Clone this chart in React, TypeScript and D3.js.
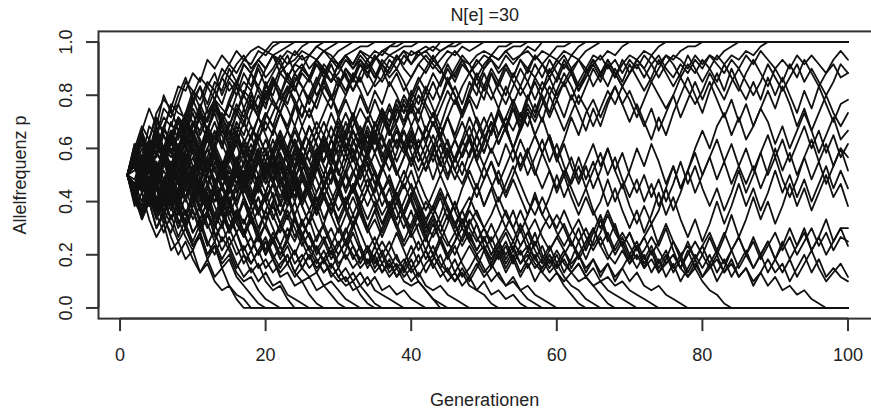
import React from "react";
import * as d3 from "d3";

// allele counts out of 2 * N[e] = 60 copies, one entry per generation (starting at generation 1)
const alleleCopies = 60;
const title = "N[e] =30";

// runs that end fixed at p = 1 (array stops at the generation of fixation)
const fixedAtOne: number[][] = [
  [30,36,41,38,44,47,45,50,49,53,51,56,54,57,55,58,56,58,59,58,60],
  [30,33,39,35,42,40,46,44,43,48,52,50,47,52,55,53,56,55,58,57,59,60],
  [30,27,33,38,36,41,45,40,44,49,47,51,49,54,52,55,57,54,56,58,57,58,59,60],
  [30,35,31,37,35,40,38,43,41,46,50,44,47,52,49,51,55,53,56,54,57,56,58,57,59,60],
  [30,24,29,33,31,36,34,39,44,42,40,45,49,46,51,48,53,50,55,52,54,57,55,56,58,57,59,60],
  [30,37,34,41,39,45,43,48,52,47,50,46,51,49,54,51,48,53,56,54,57,53,55,58,56,57,59,58,59,60],
  [30,32,26,31,35,33,30,36,41,38,44,42,47,45,43,48,51,49,54,50,53,56,52,55,54,57,56,58,56,58,59,60],
  [30,34,40,45,41,48,44,46,51,49,45,50,53,48,52,50,55,53,50,54,57,55,52,55,57,54,56,58,57,55,57,58,59,59,60],
  [30,28,33,29,35,32,38,36,33,39,43,40,46,42,38,44,41,47,45,50,48,53,51,49,54,52,55,53,56,55,57,55,58,57,56,58,59,60],
  [30,37,33,38,43,39,35,40,36,41,46,42,47,43,39,44,48,45,50,47,51,48,52,49,53,51,55,52,56,54,57,55,58,56,58,57,59,59,60],
  [30,31,36,33,28,34,37,35,41,39,44,40,37,42,46,44,49,47,43,48,52,49,46,51,54,52,56,53,51,55,57,54,56,53,56,58,57,58,59,59,60],
  [30,26,22,27,24,29,33,30,35,39,36,41,38,43,40,37,42,46,43,49,46,44,48,52,50,47,51,55,53,50,54,52,56,54,57,55,53,56,58,57,58,59,58,60],
  [30,25,30,26,31,36,32,28,33,38,34,30,35,31,27,32,37,33,38,42,39,44,41,46,43,48,45,50,47,52,49,53,51,55,52,56,54,57,55,58,57,58,59,58,59,60],
  [30,35,38,34,39,43,41,46,42,38,44,40,45,42,47,51,48,53,49,46,50,54,57,53,55,52,56,54,51,53,56,54,57,55,52,55,57,56,58,55,57,58,56,58,59,59,60],
  [30,29,34,31,27,32,36,32,38,35,30,34,39,37,42,39,45,41,38,43,47,44,40,45,49,52,48,51,47,50,54,51,55,53,50,52,56,54,57,55,58,56,54,56,58,57,59,58,59,60],
  [30,34,29,25,30,27,32,37,34,31,36,40,38,44,41,46,43,48,45,51,47,44,49,53,50,46,50,54,51,55,52,49,53,56,53,51,54,57,54,52,55,57,55,53,56,58,56,55,57,58,57,59,59,60],
  [30,34,30,26,31,27,23,27,32,28,24,28,33,29,34,30,26,31,35,31,36,40,36,41,37,33,38,42,38,43,47,43,48,44,49,46,51,48,44,48,52,49,53,50,54,51,55,53,56,54,57,56,58,59,59,60],
  [30,33,37,32,38,35,40,36,42,47,43,40,45,41,37,42,39,44,48,45,51,48,53,50,46,43,47,51,55,51,48,52,55,52,57,54,50,53,49,52,55,53,56,54,51,54,57,55,52,55,57,56,58,56,57,59,58,60],
  [30,25,28,23,27,31,28,34,30,36,33,39,35,32,37,41,38,35,40,44,41,46,50,47,43,48,52,48,45,50,53,49,52,48,51,55,52,54,51,47,51,54,57,54,51,53,56,53,55,57,56,54,57,55,57,58,56,58,57,59,59,60],
  [30,26,22,26,21,25,30,26,31,27,23,27,32,28,24,28,33,29,34,38,34,30,35,31,36,41,37,33,38,34,39,35,31,36,40,36,41,45,41,46,42,47,51,47,52,48,44,49,53,50,54,51,55,52,56,53,57,55,57,56,58,57,59,60],
  [30,36,31,35,29,33,38,33,37,32,27,31,36,30,34,39,35,29,33,28,32,37,33,28,24,29,34,30,35,31,26,30,35,40,35,39,34,30,34,38,33,37,42,38,43,39,44,48,45,50,47,51,48,53,50,54,52,55,53,56,54,57,56,58,59,60],
  [30,27,32,28,24,29,26,31,35,30,26,22,27,23,28,33,29,25,30,35,31,27,32,36,31,27,23,27,32,28,33,38,34,30,26,31,35,30,34,39,35,31,36,41,37,33,38,43,39,35,40,45,41,46,50,47,52,49,54,51,55,53,56,54,57,56,58,57,59,60],
  [30,34,39,35,41,36,42,38,43,39,35,40,36,31,36,32,27,32,28,33,38,34,29,34,30,26,31,36,32,37,42,38,34,39,35,40,45,41,37,33,38,34,29,34,38,33,37,41,36,40,44,39,43,47,43,48,44,49,52,48,51,54,50,53,56,53,55,52,55,57,56,58,57,59,60],
  [30,26,31,35,30,26,30,25,21,25,29,24,28,33,29,34,30,35,39,35,40,44,40,36,41,37,33,38,34,30,35,31,27,31,35,31,36,40,36,32,36,41,37,33,29,34,30,35,39,35,40,44,40,45,41,46,43,48,44,49,53,50,46,50,54,51,55,52,56,53,56,54,57,55,57,56,58,59,59,60],
  [30,33,28,32,37,33,29,34,38,35,31,36,40,36,41,45,42,38,43,40,44,48,45,41,46,43,47,52,48,44,48,52,49,45,41,45,40,36,40,35,31,35,39,35,30,34,38,34,39,43,39,44,40,36,41,45,42,46,50,47,51,47,51,54,50,53,56,53,50,53,55,52,55,57,54,52,55,53,56,54,57,56,58,59,60],
  [30,35,31,26,31,28,33,29,25,30,34,31,36,32,28,33,37,34,39,35,31,36,40,37,33,38,42,39,44,40,36,41,45,42,47,43,39,44,48,45,50,46,43,47,51,48,44,48,52,49,53,49,46,50,54,51,47,51,48,52,56,53,49,52,55,52,56,53,50,53,56,54,51,54,57,55,52,55,53,56,54,57,55,57,56,58,57,59,60],
];

// runs that end lost at p = 0
const fixedAtZero: number[][] = [
  [30,23,26,20,16,19,13,15,11,13,8,10,6,4,5,2,0],
  [30,27,21,24,18,21,16,12,15,11,8,11,7,9,5,3,2,0],
  [30,33,26,29,23,19,24,20,16,13,17,12,14,9,11,7,5,3,1,0],
  [30,25,28,31,24,20,17,22,18,14,16,11,14,10,12,8,6,7,4,2,1,0],
  [30,34,28,24,27,21,25,19,22,17,20,15,12,16,13,9,12,8,10,6,4,5,2,0],
  [30,26,31,26,22,25,20,23,18,14,17,12,15,11,14,10,7,9,6,8,5,6,3,2,1,0],
  [30,36,31,27,32,26,22,26,21,24,19,22,16,19,14,17,12,10,13,9,11,7,8,5,6,3,1,0],
  [30,24,21,26,22,27,23,18,22,17,20,24,19,15,18,14,10,13,9,11,8,10,12,8,6,7,4,5,3,1,0],
  [30,32,27,33,29,24,28,25,21,26,22,18,21,25,20,17,13,16,12,15,11,8,10,13,9,7,8,5,6,4,2,1,0],
  [30,25,21,25,20,24,28,23,19,23,27,22,18,22,17,21,17,13,16,12,15,11,14,10,12,9,11,8,10,7,5,6,3,1,0],
  [30,27,23,28,32,27,24,29,25,20,23,19,15,19,22,17,20,16,12,15,11,14,10,7,9,12,9,11,8,6,7,4,5,3,1,0],
  [30,35,30,34,28,25,30,26,31,27,22,26,21,18,23,19,16,20,17,13,17,14,10,13,9,12,8,11,7,9,6,8,5,7,4,3,2,1,0],
  [30,26,20,24,18,22,19,15,18,14,17,21,17,13,16,12,14,10,13,16,12,9,12,8,11,14,11,8,10,7,9,6,8,5,7,4,5,3,4,2,1,0],
  [30,35,30,35,31,27,32,28,24,29,33,28,24,28,23,27,31,27,22,26,21,17,21,16,20,16,13,16,12,15,11,14,10,13,9,12,8,10,7,9,6,4,2,0],
  [30,33,38,33,29,34,30,26,31,27,32,28,24,27,23,20,24,19,22,18,15,19,15,12,16,13,10,13,9,12,15,12,9,11,8,10,7,9,6,5,6,4,2,1,0],
  [30,28,24,29,25,21,26,23,27,22,18,22,26,21,17,20,24,20,16,19,15,18,22,18,14,17,13,11,14,10,12,9,11,14,11,8,10,7,9,6,8,5,4,5,3,2,1,0],
  [30,35,31,37,32,28,33,29,34,31,26,30,26,22,26,30,25,21,25,20,23,19,16,20,17,13,16,19,15,12,15,11,14,10,12,15,12,9,11,8,10,13,10,7,9,6,8,5,4,3,1,0],
  [30,25,29,24,28,33,29,25,30,26,22,27,23,19,24,20,25,21,17,22,18,14,18,15,19,16,12,15,11,14,18,14,11,14,10,13,9,12,8,11,7,10,12,9,6,8,5,7,4,6,3,4,2,3,1,0],
  [30,26,31,27,23,28,32,28,33,29,25,30,26,22,27,31,27,23,28,32,28,33,29,25,30,26,21,25,21,26,22,18,22,18,14,18,22,18,14,17,13,16,12,9,12,8,11,14,11,8,10,7,5,6,4,2,1,0],
  [30,34,29,33,38,34,30,35,31,27,32,36,31,27,31,26,30,25,21,25,28,24,20,24,19,22,18,15,18,14,17,21,17,13,16,12,15,11,9,12,15,11,14,10,8,11,7,9,12,9,6,8,5,7,4,5,3,2,1,0],
  [30,27,32,28,33,29,25,29,34,30,35,39,35,31,36,32,37,41,37,33,29,33,28,32,37,33,29,25,29,34,30,26,31,35,31,27,23,27,31,27,23,19,23,27,23,19,22,18,15,18,14,11,14,10,13,9,12,8,6,8,5,3,1,0],
  [30,34,38,34,39,35,31,35,40,36,32,36,31,27,32,28,33,37,33,29,33,29,25,29,34,30,26,30,35,31,27,31,27,23,27,32,28,24,28,24,20,24,21,17,21,17,14,17,13,16,12,15,11,14,10,12,9,11,8,10,7,5,4,2,1,0],
  [30,36,32,38,34,39,35,31,36,40,36,32,37,33,29,33,28,32,27,31,35,30,26,30,25,29,34,38,34,39,35,40,36,32,28,32,36,31,27,31,26,22,26,30,26,22,18,22,19,15,19,15,12,15,19,15,11,14,10,13,10,8,6,7,5,3,1,0],
  [30,26,30,25,21,25,29,24,28,32,28,23,27,31,27,32,28,24,28,24,20,24,28,24,29,25,21,25,21,17,21,25,21,17,20,16,20,24,20,16,19,15,19,15,12,15,18,15,12,14,11,14,17,13,10,13,10,8,11,8,6,8,10,7,5,6,4,3,2,1,0],
  [30,33,29,34,39,35,40,36,32,37,33,38,34,30,35,31,27,32,28,33,29,25,29,25,30,26,22,26,22,27,23,19,23,27,23,19,22,18,22,26,22,18,21,17,14,17,20,16,13,16,12,15,18,15,12,14,11,9,12,9,11,8,10,7,9,6,7,5,6,4,3,2,1,0],
  [30,25,29,24,28,23,27,32,28,24,28,33,29,25,21,25,30,26,22,26,31,27,23,27,23,19,23,28,24,20,24,28,24,20,24,19,23,19,15,19,23,19,16,19,15,12,16,20,16,13,16,12,15,11,14,17,13,10,13,16,13,10,12,9,11,8,10,7,9,6,8,5,4,5,3,2,1,0],
  [30,34,39,35,31,35,39,34,38,42,38,33,37,41,36,40,35,31,35,30,34,38,33,29,33,28,32,36,32,27,31,26,30,34,30,26,29,25,21,25,29,25,22,26,22,18,22,25,21,18,21,25,21,18,22,18,14,18,21,17,14,17,20,16,13,16,12,10,13,10,12,9,11,8,10,12,9,7,9,6,4,3,1,0],
  [30,26,31,27,22,26,30,26,21,25,29,25,20,24,28,24,28,32,28,24,28,23,27,31,26,22,26,30,26,22,25,21,25,29,25,21,24,20,24,28,24,20,23,19,23,19,15,19,22,18,15,18,22,18,14,17,20,16,13,16,19,15,12,15,18,14,11,14,17,14,11,13,16,13,10,12,9,12,15,12,9,11,8,10,7,9,6,8,5,7,4,5,3,4,2,1,0],
];

// runs still segregating at generation 100
const segregating: number[][] = [
  [30,35,32,38,35,41,37,43,40,45, 42,38,42,37,33,38,34,39,43,39, 35,31,36,32,37,41,37,33,38,35, 40,44,40,36,41,45,42,47,44,49,
   46,50,47,51,55,52,56,53,50,54, 56,53,55,52,56,54,57,55,52,55, 57,54,56,53,55,57,54,56,53,56, 54,57,55,52,55,57,56,54,57,55,
   57,55,53,56,54,57,55,58,56,54, 56,54,57,55,57,55,53,56,58,56],
  [30,26,29,34,30,35,31,36,33,38, 35,31,36,40,37,33,38,35,40,44, 41,37,33,38,34,30,35,39,35,40, 44,40,36,41,37,42,46,42,47,44,
   48,45,41,45,49,46,50,53,50,47, 53,50,54,51,48,51,55,52,56,53, 50,53,49,53,56,53,50,54,51,55, 52,49,52,56,53,50,53,57,54,51,
   54,51,55,52,49,53,56,53,50,54, 51,55,52,56,53,50,53,55,52,53],
  [30,25,28,23,27,22,26,21,25,29, 25,22,27,24,28,33,29,34,30,26, 31,35,31,36,33,38,34,39,35,41, 37,34,39,43,39,44,40,37,41,45,
   41,38,42,38,34,38,42,38,43,39, 35,39,43,40,44,41,46,42,48,44, 40,44,48,45,41,45,49,46,50,47, 43,47,51,48,45,48,52,49,46,49,
   53,50,47,51,54,51,48,51,55,52, 49,52,55,51,54,51,48,51,55,53],
  [30,36,31,35,40,36,32,37,33,38, 34,30,34,29,33,37,32,28,33,36, 32,28,32,27,31,36,32,37,33,39, 35,40,37,43,39,44,41,46,42,47,
   44,49,45,41,46,50,46,51,48,53, 49,45,50,46,42,47,51,47,43,47, 43,48,44,40,45,41,46,50,46,42, 46,42,38,43,39,44,48,52,48,44,
   49,53,49,54,50,47,51,47,52,48, 52,48,44,49,45,50,46,42,46,47],
  [30,34,28,25,29,24,20,24,19,23, 27,22,26,21,18,22,19,23,27,24, 28,32,27,31,35,31,36,32,28,33, 37,33,38,34,39,43,39,42,46,41,
   45,40,44,39,43,47,43,47,42,38, 42,37,41,45,40,44,39,35,39,34, 38,43,39,44,47,43,47,50,46,49, 45,41,45,40,44,48,43,47,51,47,
   51,47,43,47,42,46,41,45,49,45, 50,46,41,45,40,44,48,44,41,44],
  [30,25,30,35,31,36,40,35,39,44, 39,43,47,42,46,50,45,49,44,48, 52,47,50,46,41,45,40,44,48,43, 39,43,38,34,38,33,37,41,36,40,
   35,31,35,30,34,38,34,38,33,29, 33,28,32,36,31,35,39,35,39,34, 30,34,29,33,37,32,36,31,27,31, 36,32,37,33,28,32,27,31,36,40,
   36,41,44,39,43,38,41,45,42,37, 41,36,40,44,40,35,39,43,38,40],
  [30,26,31,35,29,33,28,24,29,25, 29,33,27,31,36,31,35,30,26,30, 25,21,26,21,25,29,24,28,32,27, 31,36,31,35,39,34,38,33,37,41,
   36,40,44,39,43,38,34,38,33,37, 42,37,41,36,32,36,31,27,31,26, 30,25,21,25,21,24,29,24,28,23, 19,23,19,22,27,22,26,31,26,30,
   34,29,33,28,32,36,31,35,39,34, 38,33,37,41,36,40,35,39,34,37],
  [30,35,40,35,39,33,37,42,37,41, 45,40,44,39,35,39,34,30,35,31, 35,39,34,38,33,29,33,28,24,28, 23,27,32,27,31,26,22,26,21,18,
   22,17,21,25,20,24,19,23,28,23, 27,31,26,30,35,30,34,38,33,37, 32,28,32,27,31,35,30,34,29,25, 29,24,28,23,27,32,27,31,35,30,
   34,38,33,37,32,28,32,27,31,36, 31,35,30,34,38,33,37,32,36,34],
  [30,24,21,26,22,27,31,26,30,34, 29,33,28,24,28,23,19,23,18,22, 26,21,25,20,16,20,15,19,24,19, 23,28,23,27,31,26,30,25,29,34,
   29,33,37,32,36,31,35,39,34,38, 42,37,41,36,40,44,39,43,38,33, 37,32,28,32,27,31,36,31,35,30, 26,30,25,29,24,28,33,28,32,27,
   23,27,22,26,31,26,30,35,30,34, 29,25,29,34,29,33,28,32,36,31],
  [30,35,30,34,39,34,39,43,38,42, 37,32,36,31,35,40,35,39,34,30, 34,29,25,29,24,28,33,28,32,27, 23,27,22,18,22,17,21,26,21,25,
   20,16,20,15,19,24,19,23,28,23, 27,22,18,22,17,21,26,21,25,30, 25,29,34,29,33,28,23,27,22,18, 22,17,21,26,21,25,20,16,20,15,
   19,24,19,23,28,23,27,22,26,31, 26,30,25,29,24,28,32,27,31,27],
  [30,25,20,24,28,23,27,22,18,22, 17,21,26,21,25,20,16,20,15,19, 24,19,23,28,23,27,32,27,31,26, 30,34,29,33,28,23,27,22,18,22,
   17,13,17,21,26,22,27,31,27,32, 36,32,37,33,38,34,30,35,31,27, 31,27,23,27,22,18,22,18,14,17, 13,16,19,14,18,13,9,13,9,12,
   16,12,16,21,16,20,25,20,24,19, 23,28,23,27,22,26,30,25,28,23],
  [30,34,39,34,38,33,28,32,27,31, 36,31,35,30,26,30,25,21,25,20, 24,29,24,28,23,19,23,18,14,18, 14,18,23,18,22,27,22,26,21,17,
   21,16,12,16,12,15,20,15,19,14, 10,14,10,13,18,13,17,12,9,12, 8,11,15,11,15,20,15,19,14,10, 14,9,13,8,11,15,11,7,10,7,
   10,6,9,13,9,12,16,12,15,11, 14,18,14,17,13,16,20,15,18,18],
  [30,26,22,26,21,17,21,16,20,25, 20,24,19,23,27,23,28,24,29,33, 29,34,30,35,31,36,40,36,41,37, 33,37,41,37,42,38,34,38,35,39,
   35,31,35,39,35,31,28,32,36,32, 28,24,28,32,28,24,21,25,21,18, 22,18,15,18,14,17,21,17,14,17, 13,16,12,15,19,15,12,14,11,14,
   17,13,10,13,16,12,15,11,14,17, 13,16,12,15,18,14,17,13,16,15],
  [30,36,32,27,31,25,29,34,29,25, 29,24,28,33,28,32,37,32,36,31, 35,39,35,40,36,41,37,33,38,42, 38,43,39,35,39,35,31,35,40,36,
   41,37,33,37,33,29,33,29,25,29, 33,29,25,29,25,21,25,21,18,21, 18,14,18,13,17,21,16,12,15,11, 14,10,13,9,12,8,11,15,11,14,
   10,13,17,13,16,12,9,12,8,11, 15,11,14,18,13,16,12,15,18,14],
  [30,25,31,26,21,25,20,24,19,15, 19,14,18,23,18,22,17,13,17,12, 16,12,16,21,16,20,25,20,24,19, 15,19,14,10,14,10,13,17,13,9,
   12,8,11,15,11,14,10,7,10,7, 9,13,9,12,8,11,15,11,14,10, 13,9,12,8,11,7,10,6,9,12, 9,12,8,11,7,10,6,9,12,9,
   12,8,11,7,10,13,9,12,15,11, 8,11,7,10,13,9,6,8,10,7],
  [30,34,28,32,27,23,28,23,27,32, 27,23,27,22,18,22,17,21,16,12, 16,12,15,20,15,11,14,10,13,9, 13,17,13,9,12,8,11,7,10,14,
   10,13,9,12,8,6,9,6,9,13, 9,12,8,11,7,10,6,9,12,9, 12,15,11,14,18,14,17,13,16,12, 15,11,14,10,13,9,12,8,11,7,
   9,12,8,11,7,9,5,8,11,8, 10,6,9,12,8,11,7,9,7,6],
];

const xTicks = [0, 20, 40, 60, 80, 100];
const yTicks = [0, 0.2, 0.4, 0.6, 0.8, 1.0];
const xLabel = "Generationen";
const yLabel = "Allelfrequenz p";

const W = 871;
const H = 411;
const lastGen = 100;

// R-style plot region: data range widened by 4% on each side
const xLim = [1, lastGen];
const yLim = [0, 1];
const xPad = (xLim[1] - xLim[0]) * 0.04;
const yPad = (yLim[1] - yLim[0]) * 0.04;

const x = d3.scaleLinear().domain([xLim[0] - xPad, xLim[1] + xPad]).range([98.5, 876.8]);
const y = d3.scaleLinear().domain([yLim[0] - yPad, yLim[1] + yPad]).range([318.6, 31.4]);

const line = d3
  .line<[number, number]>()
  .x((d) => x(d[0]))
  .y((d) => y(d[1]));

function toPoints(run: number[]): [number, number][] {
  const pts: [number, number][] = run.map((k, i) => [i + 1, k / alleleCopies]);
  // a fixed/lost allele stays there: carry the line on to the last generation
  if (run.length < lastGen) pts.push([lastGen, run[run.length - 1] / alleleCopies]);
  return pts;
}

const allRuns = [...fixedAtOne, ...fixedAtZero, ...segregating];

export default function App() {
  const [x0, x1] = x.range();
  const [y0, y1] = y.range();
  const font = "'Liberation Sans', Arial, sans-serif";
  const ink = "#222";
  return (
    <svg
      width={W}
      height={H}
      style={{ position: "absolute", left: 0, top: 0, background: "#fff" }}
      fontFamily={font}
    >
      <rect width={W} height={H} fill="#fff" />
      <g fill="none" stroke="#111" strokeWidth={1.8} strokeLinejoin="round" strokeLinecap="round">
        {allRuns.map((run, i) => (
          <path key={i} d={line(toPoints(run)) ?? ""} />
        ))}
      </g>

      {/* box */}
      <rect x={x0} y={y1} width={x1 - x0} height={y0 - y1} fill="none" stroke="#333" strokeWidth={2} />

      {/* x axis */}
      <g stroke="#333" strokeWidth={2}>
        <line x1={x(xTicks[0])} x2={x(xTicks[xTicks.length - 1])} y1={y0} y2={y0} />
        {xTicks.map((t) => (
          <line key={t} x1={x(t)} x2={x(t)} y1={y0} y2={y0 + 12.5} />
        ))}
      </g>
      {xTicks.map((t) => (
        <text key={t} x={x(t)} y={361} textAnchor="middle" fontSize={18} fill={ink}>
          {t}
        </text>
      ))}

      {/* y axis */}
      <g stroke="#333" strokeWidth={2}>
        <line x1={x0} x2={x0} y1={y(yTicks[0])} y2={y(yTicks[yTicks.length - 1])} />
        {yTicks.map((t) => (
          <line key={t} x1={x0 - 12.5} x2={x0} y1={y(t)} y2={y(t)} />
        ))}
      </g>
      {yTicks.map((t) => (
        <text
          key={t}
          transform={`translate(72,${y(t)}) rotate(-90)`}
          textAnchor="middle"
          fontSize={18}
          fill={ink}
        >
          {t.toFixed(1)}
        </text>
      ))}

      {/* titles */}
      <text x={(x0 + x1) / 2 - 3} y={21} textAnchor="middle" fontSize={18} fill={ink}>
        {title}
      </text>
      <text x={(x0 + x1) / 2 - 3} y={406} textAnchor="middle" fontSize={18} fill={ink}>
        {xLabel}
      </text>
      <text
        transform={`translate(26,${(y0 + y1) / 2}) rotate(-90)`}
        textAnchor="middle"
        fontSize={18}
        fill={ink}
      >
        {yLabel}
      </text>
    </svg>
  );
}
